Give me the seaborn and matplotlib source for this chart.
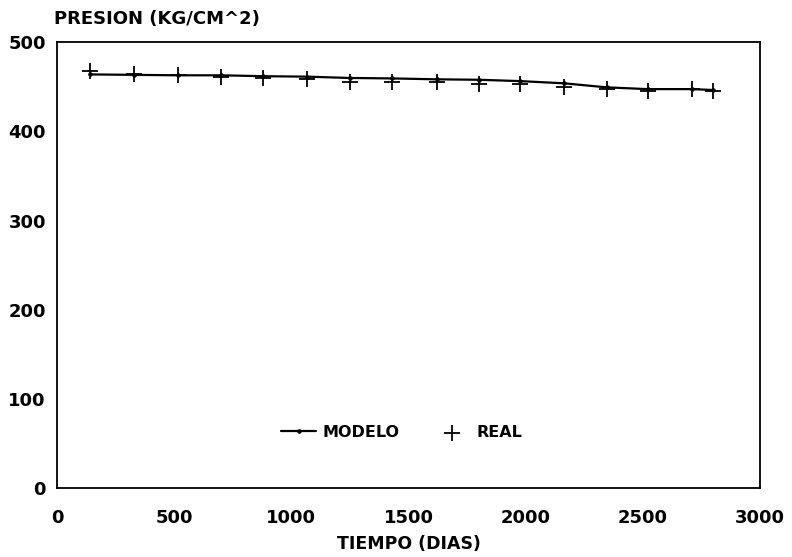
import matplotlib
matplotlib.use("Agg")
import matplotlib.pyplot as plt
import seaborn as sns
import pandas as pd

tiempo = [140, 330, 515, 700, 880, 1065, 1250, 1430, 1620, 1800, 1975, 2165, 2345, 2520, 2710, 2800]
modelo = [464, 463.5, 463, 463, 462, 461.5, 460, 459.5, 458.5, 458, 456.5, 454, 449.5, 447.5, 447.5, 446.5]
real = [468, 464.5, 463.5, 461, 460.5, 458.5, 456, 455, 455, 453.5, 453, 449.5, 447.5, 445.5, 447.5, 445.5]

x_ticks = [0, 500, 1000, 1500, 2000, 2500, 3000]
y_ticks = [0, 100, 200, 300, 400, 500]

sns.set_style("white")
plt.rcParams['font.family'] = ['DejaVu Sans']
plt.rcParams['font.weight'] = 'bold'
plt.rcParams['text.color'] = 'black'
plt.rcParams['axes.labelcolor'] = 'black'

df = pd.DataFrame({"TIEMPO": tiempo, "MODELO": modelo, "REAL": real})

fig = plt.figure(figsize=(7.92, 5.57), dpi=100)
ax = fig.add_axes([0.072, 0.124, 0.8876, 0.800])

sns.lineplot(data=df, x="TIEMPO", y="MODELO", ax=ax, color="black", linewidth=1.6,
             marker="o", markersize=2.5, markeredgecolor="black", label="MODELO")
sns.scatterplot(data=df, x="TIEMPO", y="REAL", ax=ax, color="black", marker="+",
                s=130, linewidth=1.3, label="REAL")

ax.set_xlim(0, 3000)
ax.set_ylim(0, 500)
ax.set_xticks(x_ticks)
ax.set_yticks(y_ticks)
ax.tick_params(axis="x", direction="out", length=5, width=1.2, labelsize=13, pad=10, colors="black")
ax.tick_params(axis="y", direction="in", length=5, width=1.2, labelsize=13, pad=8, colors="black")
for lab in ax.get_xticklabels() + ax.get_yticklabels():
    lab.set_fontweight("bold")
for sp in ax.spines.values():
    sp.set_color("black")
    sp.set_linewidth(1.3)

ax.set_xlabel("TIEMPO (DIAS)", fontsize=12.5, fontweight="bold", labelpad=6, color="black")
ax.set_ylabel("")
fig.text(0.068, 0.966, "PRESION (KG/CM^2)", fontsize=13, fontweight="bold", ha="left", va="center", color="black")

leg = ax.legend(loc="center", bbox_to_anchor=(0.49, 0.125), ncol=2, frameon=False,
                fontsize=11.5, handlelength=2.2, columnspacing=2.2, handletextpad=0.4)
for t in leg.get_texts():
    t.set_fontweight("bold")
    t.set_color("black")

fig.savefig("out.png", dpi=100)
